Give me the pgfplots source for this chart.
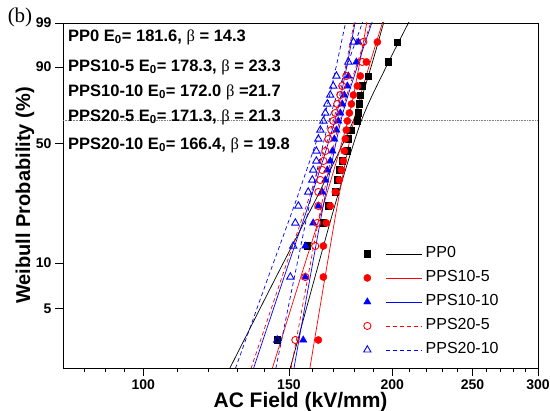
\documentclass[border=0pt]{standalone}
\usepackage{pgfplots}
\pgfplotsset{compat=1.18}
\usepackage{fontspec}
\setmainfont{Liberation Sans}
\newfontfamily\seriffont{Liberation Serif}
\definecolor{myred}{RGB}{255,0,0}
\definecolor{myblue}{RGB}{0,0,255}
\newcommand{\bet}{{\seriffont\mdseries β}}
\begin{document}
\begin{tikzpicture}
\begin{axis}[
  scale only axis, width=475pt, height=345pt,
  xmode=log, xmin=80, xmax=300,
  ymin=-3.9019, ymax=1.5272,
  xtick={100,150,200,250,300}, xticklabels={100,150,200,250,300},
  minor xtick={85,90,95,110,120,130,140,160,170,180,190,210,220,230,240,260,270,280,290},
  ytick={-2.9702,-2.2504,-0.3665,0.8340,1.5272}, yticklabels={5,10,50,90,99},
  tick pos=left, tick align=outside,
  major tick length=8pt, minor tick length=4pt,
  every tick/.style={black, line width=0.8pt},
  axis line style={line width=0.9pt},
  /pgf/number format/assume math mode=true,
  ticklabel style={font=\bfseries\fontsize{14}{16}\selectfont},
  xlabel={AC Field (kV/mm)}, ylabel={Weibull Probability (\%)},
  every axis x label/.style={at={(rel axis cs:0.5,0)}, yshift=-34pt, anchor=center, font=\bfseries\fontsize{21}{23}\selectfont},
  every axis y label/.style={at={(rel axis cs:0,0.5)}, xshift=-38pt, rotate=90, anchor=center, font=\bfseries\fontsize{20}{22}\selectfont},
  clip mode=individual,
  legend style={draw=none, fill=none, inner sep=0pt, at={(rel axis cs:0.6326,0.366)}, anchor=north west,
    font=\fontsize{16}{18}\selectfont, legend cell align=left,
    nodes={inner xsep=3pt, inner ysep=4.5pt, text height=11.5pt, text depth=3.5pt}},
]
% reference line at 63.2 %
\addplot[forget plot, gray, densely dotted, line width=0.6pt] coordinates {(80,0) (300,0)};

% ---- confidence bounds ----
\addplot[forget plot, draw=black, line width=0.7pt, smooth] coordinates {(127.21,-3.91) (144.35,-2.5) (162.36,-1.2) (179.59,0) (188.16,0.8) (195.53,1.561)};
\addplot[forget plot, draw=black, line width=0.7pt, smooth] coordinates {(150.51,-3.91) (161.05,-2.5) (171.73,-1.2) (183.63,0) (196.02,0.8) (209.82,1.561)};
\addplot[forget plot, draw=myred, line width=0.7pt, smooth] coordinates {(143.22,-3.91) (154.78,-2.5) (166.34,-1.2) (176.82,0) (182.06,0.8) (186.45,1.561)};
\addplot[forget plot, draw=myred, line width=0.7pt, smooth] coordinates {(158.99,-3.91) (165.73,-2.5) (172.42,-1.2) (179.80,0) (187.04,0.8) (194.95,1.561)};
\addplot[forget plot, draw=myblue, line width=0.7pt, smooth] coordinates {(135.92,-3.91) (147.75,-2.5) (159.67,-1.2) (170.57,0) (175.95,0.8) (180.47,1.561)};
\addplot[forget plot, draw=myblue, line width=0.7pt, smooth] coordinates {(152.11,-3.91) (159.01,-2.5) (165.89,-1.2) (173.44,0) (181.01,0.8) (189.29,1.561)};
\addplot[forget plot, draw=myred, line width=0.7pt, dash pattern=on 4pt off 3pt, smooth] coordinates {(134.97,-3.91) (146.87,-2.5) (158.87,-1.2) (169.88,0) (175.37,0.8) (180.01,1.561)};
\addplot[forget plot, draw=myred, line width=0.7pt, dash pattern=on 4pt off 3pt, smooth] coordinates {(150.92,-3.91) (157.99,-2.5) (165.02,-1.2) (172.74,0) (180.38,0.8) (188.75,1.561)};
\addplot[forget plot, draw=myblue, line width=0.7pt, dash pattern=on 4pt off 3pt, smooth] coordinates {(129.25,-3.91) (141.37,-2.5) (153.65,-1.2) (165.02,0) (170.82,0.8) (175.80,1.561)};
\addplot[forget plot, draw=myblue, line width=0.7pt, dash pattern=on 4pt off 3pt, smooth] coordinates {(144.64,-3.91) (152.15,-2.5) (159.63,-1.2) (167.80,0) (175.73,0.8) (184.40,1.561)};

% ---- data points ----
% PP0
\addplot[forget plot, only marks, mark=square*, mark size=3.3pt, mark options={draw=black, fill=black}] table {
145.2 -3.461
157.9 -1.982
165.1 -1.620
167.4 -1.352
170.7 -1.132
171.6 -0.943
172.6 -0.786
174.0 -0.644
176.5 -0.487
177.0 -0.298
178.0 -0.157
181.5 -0.015
182.0 0.111
182.5 0.253
183.0 0.394
184.0 0.536
187.1 0.693
197.8 0.914
202.8 1.228
};
% PPS10-5
\addplot[forget plot, only marks, mark=*, mark size=3.6pt, mark options={draw=myred, fill=myred}] table {
162.8 -3.461
165.1 -2.470
165.1 -1.982
166.5 -1.620
168.3 -1.352
170.7 -1.132
172.6 -0.943
173.6 -0.786
174.5 -0.644
175.0 -0.487
175.5 -0.298
176.0 -0.157
176.5 -0.015
177.5 0.111
178.5 0.253
179.5 0.394
181.5 0.536
183.0 0.693
186.1 0.914
191.9 1.228
};
% PPS10-10
\addplot[forget plot, only marks, mark=triangle*, mark size=4.2pt, mark options={draw=myblue, fill=myblue}] table {
156.1 -3.461
157.0 -2.470
157.0 -1.982
160.5 -1.620
162.8 -1.352
164.6 -1.132
166.0 -0.943
166.9 -0.786
168.3 -0.644
169.3 -0.487
170.2 -0.298
171.2 -0.157
172.1 -0.015
173.1 0.111
174.0 0.253
175.0 0.394
176.5 0.536
177.0 0.693
181.0 0.914
182.0 1.228
};
% PPS20-5
\addplot[forget plot, only marks, mark=o, mark size=3.6pt, mark options={draw=myred, fill=none, line width=0.9pt}] table {
152.7 -3.461
157.0 -2.470
161.4 -1.982
162.3 -1.620
162.8 -1.352
162.8 -1.132
163.7 -0.943
164.6 -0.786
165.1 -0.644
166.0 -0.487
167.4 -0.298
168.8 -0.157
169.7 -0.015
170.7 0.111
171.6 0.253
173.1 0.394
174.0 0.536
176.0 0.693
184.0 0.914
184.5 1.228
};
% PPS20-10
\addplot[forget plot, only marks, mark=triangle, mark size=4.2pt, mark options={draw=myblue, fill=none, line width=0.9pt}] table {
145.2 -3.461
150.6 -2.470
151.8 -1.982
152.7 -1.620
154.0 -1.352
158.3 -1.132
160.1 -0.943
160.5 -0.786
161.9 -0.644
161.9 -0.487
162.8 -0.298
163.7 -0.157
165.1 -0.015
166.0 0.111
166.9 0.253
168.3 0.394
169.7 0.536
171.2 0.693
177.0 0.914
179.5 1.228
};

% ---- legend ----
\addlegendimage{legend image code/.code={
  \draw[draw=black, fill=black] plot[mark=square*, mark size=3.3pt] coordinates {(0pt,0pt)};
  \draw[draw=black, line width=0.7pt] (19pt,0pt) -- (55pt,0pt);}}
\addlegendentry{PP0}
\addlegendimage{legend image code/.code={
  \draw[draw=myred, fill=myred] plot[mark=*, mark size=3.6pt] coordinates {(0pt,0pt)};
  \draw[draw=myred, line width=0.7pt] (19pt,0pt) -- (55pt,0pt);}}
\addlegendentry{PPS10-5}
\addlegendimage{legend image code/.code={
  \draw[draw=myblue, fill=myblue] plot[mark=triangle*, mark size=4.2pt] coordinates {(0pt,0pt)};
  \draw[draw=myblue, line width=0.7pt] (19pt,0pt) -- (55pt,0pt);}}
\addlegendentry{PPS10-10}
\addlegendimage{legend image code/.code={
  \draw[draw=myred, line width=0.9pt] plot[mark=o, mark size=3.6pt] coordinates {(0pt,0pt)};
  \draw[draw=myred, line width=0.7pt, dash pattern=on 4pt off 3pt] (19pt,0pt) -- (55pt,0pt);}}
\addlegendentry{PPS20-5}
\addlegendimage{legend image code/.code={
  \draw[draw=myblue, line width=0.9pt] plot[mark=triangle, mark size=4.2pt] coordinates {(0pt,0pt)};
  \draw[draw=myblue, line width=0.7pt, dash pattern=on 4pt off 3pt] (19pt,0pt) -- (55pt,0pt);}}
\addlegendentry{PPS20-10}

% ---- annotations ----
\node[anchor=west, inner sep=0pt, font=\bfseries\fontsize{16.5}{18}\selectfont] at (rel axis cs:0.0105,0.959) {PP0 E\textsubscript{0}= 181.6, \bet{} = 14.3};
\node[anchor=west, inner sep=0pt, font=\bfseries\fontsize{16.5}{18}\selectfont] at (rel axis cs:0.0105,0.872) {PPS10-5 E\textsubscript{0}= 178.3, \bet{} = 23.3};
\node[anchor=west, inner sep=0pt, font=\bfseries\fontsize{16.5}{18}\selectfont] at (rel axis cs:0.0105,0.800) {PPS10-10 E\textsubscript{0}= 172.0 \bet{} =21.7};
\node[anchor=west, inner sep=0pt, font=\bfseries\fontsize{16.5}{18}\selectfont] at (rel axis cs:0.0105,0.7275) {PPS20-5 E\textsubscript{0}= 171.3, \bet{} = 21.3};
\node[anchor=west, inner sep=0pt, font=\bfseries\fontsize{16.5}{18}\selectfont] at (rel axis cs:0.0105,0.646) {PPS20-10 E\textsubscript{0}= 166.4, \bet{} = 19.8};
\end{axis}
\node[font=\seriffont\fontsize{21}{24}\selectfont] at (-43pt,351pt) {(b)};
\pgfresetboundingbox
\useasboundingbox (-63pt,-43pt) rectangle (487pt,368pt);
\end{tikzpicture}
\end{document}
